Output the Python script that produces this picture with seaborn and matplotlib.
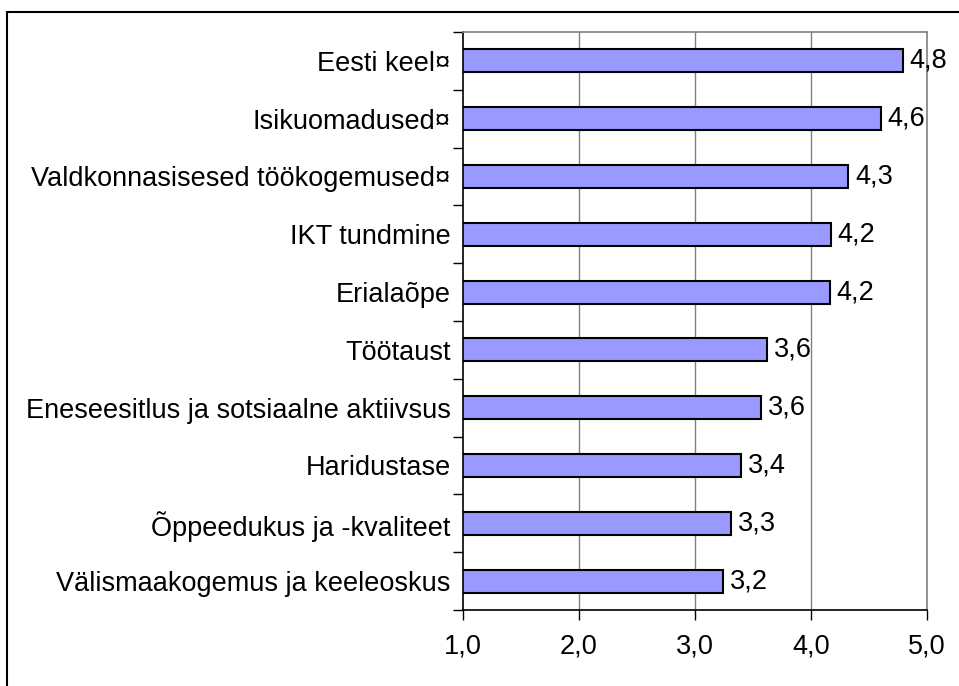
import matplotlib
matplotlib.use("Agg")
import matplotlib.pyplot as plt
import matplotlib.patches as patches
import seaborn as sns
import pandas as pd
import numpy as np

kategooriad = [
    "Eesti keel¤",
    "Isikuomadused¤",
    "Valdkonnasisesed töökogemused¤",
    "IKT tundmine",
    "Erialaõpe",
    "Töötaust",
    "Eneseesitlus ja sotsiaalne aktiivsus",
    "Haridustase",
    "Õppeedukus ja -kvaliteet",
    "Välismaakogemus ja keeleoskus",
]
hinnang = [4.79, 4.60, 4.32, 4.17, 4.16, 3.62, 3.57, 3.40, 3.31, 3.24]
x_ticks = [1, 2, 3, 4, 5]


def main():
    sns.set_theme(style="white")
    plt.rcParams["font.family"] = ["Liberation Sans", "DejaVu Sans"]
    plt.rcParams["text.color"] = "black"
    plt.rcParams["xtick.labelcolor"] = "black"
    plt.rcParams["ytick.labelcolor"] = "black"

    fs = 19.5
    df = pd.DataFrame({"kat": kategooriad, "val": hinnang})

    fig = plt.figure(figsize=(9.59, 6.86), dpi=100)
    ax = fig.add_axes([0.4828, 0.1108, 0.4838, 0.8426])

    sns.barplot(data=df, x="val", y="kat", orient="h", color="#9999FF",
                saturation=1, width=0.4, edgecolor="black", linewidth=1.5, ax=ax)

    ax.set_xlim(1, 5)
    ax.set_ylim(len(kategooriad) - 0.5, -0.5)
    ax.set_xticks(x_ticks)
    ax.set_xticklabels([f"{t:.1f}".replace(".", ",") for t in x_ticks], fontsize=fs)
    ax.tick_params(axis="x", direction="out", length=7, width=1, color="black",
                   pad=10, bottom=True)
    ax.set_yticks(range(len(kategooriad)))
    ax.set_yticklabels(kategooriad, fontsize=fs)
    ax.tick_params(axis="y", which="major", length=0, pad=9)
    ax.set_yticks(np.arange(-0.5, len(kategooriad), 1), minor=True)
    ax.tick_params(axis="y", which="minor", direction="out", length=7, width=1,
                   color="black", left=True)
    ax.set_xlabel("")
    ax.set_ylabel("")

    for x in [2, 3, 4]:
        ax.axvline(x, color="#808080", linewidth=1, zorder=0)

    for s in ["left", "bottom"]:
        ax.spines[s].set_color("black")
        ax.spines[s].set_linewidth(1.2)
    for s in ["top", "right"]:
        ax.spines[s].set_color("#808080")
        ax.spines[s].set_linewidth(1.2)

    for i, v in enumerate(hinnang):
        ax.text(v + 0.06, i, f"{v:.1f}".replace(".", ","), va="center",
                ha="left", fontsize=fs, color="black", clip_on=False)

    fig.patches.append(patches.Rectangle((7 / 959, -0.05), 1.1, 1 - 12 / 686 + 0.05,
                                         transform=fig.transFigure, fill=False,
                                         edgecolor="black", linewidth=1.5))

    fig.savefig("out.png", dpi=100)


if __name__ == "__main__":
    main()
